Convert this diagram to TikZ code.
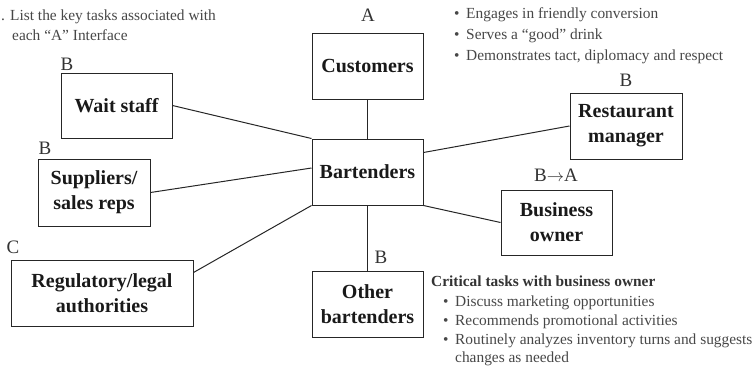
\documentclass[tikz,border=0pt]{standalone}
\usepackage{fontspec}
\setmainfont{Liberation Serif}
\begin{document}
\begin{tikzpicture}[x=1pt,y=-1pt,
  box/.style={draw=black!85, line width=1pt, minimum width=111pt, minimum height=66pt,
    inner sep=0pt, align=center, font=\fontsize{20}{25}\selectfont\bfseries, text=black!90},
  lbl/.style={font=\fontsize{19}{22}\selectfont, text=black!80, inner sep=0pt},
  body/.style={font=\fontsize{15.4}{18}\selectfont, text=black!72, inner sep=0pt, anchor=base west},
  head/.style={font=\fontsize{15.4}{18}\selectfont\bfseries, text=black!80, inner sep=0pt, anchor=base west},
  link/.style={line width=1pt, draw=black!85}]
\useasboundingbox (0,0) rectangle (752,365);

% boxes
\node[box] (cust) at (367.5,66) {Customers};
\node[box] (bar) at (367.5,172) {Bartenders};
\node[box] (ob) at (367.5,304) {Other\\bartenders};
\node[box, minimum height=65pt] (ws) at (116.5,105.5) {Wait staff};
\node[box, minimum width=112pt, minimum height=67pt] (sup) at (94,192.5) {Suppliers/\\sales reps};
\node[box, minimum width=182pt] (reg) at (102,293) {Regulatory/legal\\authorities};
\node[box, minimum width=112pt] (rm) at (626,126) {Restaurant\\manager};
\node[box, minimum height=65pt] (bo) at (556.5,222.5) {Business\\owner};

% letter labels
\node[lbl] (la) at (368,15) {A};
\node[lbl] (lws) at (67,64) {B};
\node[lbl] (lsup) at (45,148) {B};
\node[lbl] (lreg) at (13,247) {C};
\node[lbl] (lrm) at (626,80) {B};
\node[lbl] (lbo) at (556,175) {B$\rightarrow$A};
\node[lbl] (lob) at (381,257) {B};

% connectors
\draw[link] (cust) -- (bar);
\draw[link] (bar) -- (ob);
\draw[link] (ws.east) -- (bar.north west);
\draw[link] (sup.east) -- ([yshift=4pt]bar.west);
\draw[link] ([yshift=-13pt]reg.north east) -- (bar.south west);
\draw[link] (rm.west) -- ([yshift=-14pt]bar.north east);
\draw[link] (bo.west) -- (bar.south east);

% top-left text
\node[body] (t1) at (1,20) {. List the key tasks associated with};
\node[body] (t2) at (12,40) {each “A” Interface};

% top-right bullets
\node[body] (r1) at (454,18) {\makebox[12pt][l]{\textbullet}Engages in friendly conversion};
\node[body] (r2) at (454,39) {\makebox[12pt][l]{\textbullet}Serves a “good” drink};
\node[body] (r3) at (454,60) {\makebox[12pt][l]{\textbullet}Demonstrates tact, diplomacy and respect};

% bottom-right
\node[head] (h1) at (431,286) {Critical tasks with business owner};
\node[body] (b1) at (443,306) {\makebox[12pt][l]{\textbullet}Discuss marketing opportunities};
\node[body] (b2) at (443,325) {\makebox[12pt][l]{\textbullet}Recommends promotional activities};
\node[body] (b3) at (443,344) {\makebox[12pt][l]{\textbullet}Routinely analyzes inventory turns and suggests};
\node[body] (b4) at (455,362) {changes as needed};
\end{tikzpicture}
\end{document}
